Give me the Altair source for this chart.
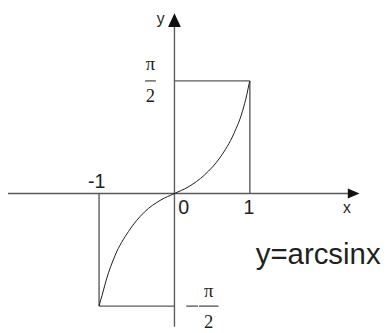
import altair as alt
import pandas as pd

# curve y = arcsin(x)
curve_x = [-1.0, -0.99, -0.96, -0.9, -0.79, -0.61, -0.4, -0.18, 0.0, 0.18, 0.4, 0.61, 0.79, 0.9, 0.96, 0.99, 1.0]
curve_y = [-1.5708, -1.53, -1.42, -1.19, -0.87, -0.53, -0.26, -0.09, 0.0, 0.09, 0.26, 0.51, 0.84, 1.14, 1.38, 1.53, 1.5708]

HALF_PI = 1.5708

# line segments: axes and guide box (x, y, x2, y2 in data units)
seg_x1 = [-2.208, 0.0, 0.0, 1.0, -1.0, -1.0, -0.390, 0.325, 0.156]
seg_y1 = [0.0, -1.858, HALF_PI, 0.0, -HALF_PI, 0.0, HALF_PI, -HALF_PI, -HALF_PI]
seg_x2 = [2.364, 0.0, 1.0, 1.0, 0.0, -1.0, -0.247, 0.584, 0.312]
seg_y2 = [0.0, 2.377, HALF_PI, HALF_PI, -HALF_PI, -HALF_PI, HALF_PI, -HALF_PI, -HALF_PI]

# sans labels
sans_text = ["-1", "0", "1"]
sans_x = [-1.032, 0.123, 0.987]
sans_y = [0.082, -0.285, -0.285]

small_text = ["y", "x"]
small_x = [-0.182, 2.286]
small_y = [2.363, -0.272]

# serif fraction parts
serif_text = ["π", "2", "π", "2"]
serif_x = [-0.318, -0.318, 0.455, 0.455]
serif_y = [1.721, 1.270, -1.448, -1.870]

title_text = ["y=arcsinx"]
title_x = [1.078]
title_y = [-0.983]

xs = alt.Scale(domain=[-2.2078, 2.7792], nice=False, zero=False)
ys = alt.Scale(domain=[-1.8986, 2.5406], nice=False, zero=False)

AX = "#5a5a5a"
TX = "#231f20"

curve = alt.Chart(pd.DataFrame({"x": curve_x, "y": curve_y})).mark_line(
    color="#1a1a1a", strokeWidth=1, interpolate="monotone"
).encode(
    x=alt.X("x:Q", scale=xs, axis=None),
    y=alt.Y("y:Q", scale=ys, axis=None),
    order="x:Q",
)

segs = alt.Chart(pd.DataFrame({"x": seg_x1, "y": seg_y1, "x2": seg_x2, "y2": seg_y2})).mark_rule(
    color=AX, strokeWidth=1.4
).encode(
    x=alt.X("x:Q", scale=xs, axis=None),
    y=alt.Y("y:Q", scale=ys, axis=None),
    x2="x2:Q",
    y2="y2:Q",
)

xarrow = alt.Chart(pd.DataFrame({"x": [2.377], "y": [0.0]})).mark_point(
    shape="M1,0L-1,-0.85L-1,0.85Z", size=144, filled=True, opacity=1, color="#111111"
).encode(x=alt.X("x:Q", scale=xs, axis=None), y=alt.Y("y:Q", scale=ys, axis=None))

yarrow = alt.Chart(pd.DataFrame({"x": [0.0], "y": [2.418]})).mark_point(
    shape="M0,-1L-0.93,1L0.93,1Z", size=196, filled=True, opacity=1, color="#111111"
).encode(x=alt.X("x:Q", scale=xs, axis=None), y=alt.Y("y:Q", scale=ys, axis=None))

def text_layer(t, x, y, font, size):
    return alt.Chart(pd.DataFrame({"t": t, "x": x, "y": y})).mark_text(
        font=font, fontSize=size, color=TX, align="center", baseline="alphabetic"
    ).encode(
        x=alt.X("x:Q", scale=xs, axis=None),
        y=alt.Y("y:Q", scale=ys, axis=None),
        text="t:N",
    )

sans = text_layer(sans_text, sans_x, sans_y, "Liberation Sans", 20)
small = text_layer(small_text, small_x, small_y, "Liberation Sans", 16)
serif = text_layer(serif_text, serif_x, serif_y, "Liberation Serif", 19)

title = alt.Chart(pd.DataFrame({"t": title_text, "x": title_x, "y": title_y})).mark_text(
    font="Liberation Sans", fontSize=30, color=TX, align="left", baseline="alphabetic"
).encode(
    x=alt.X("x:Q", scale=xs, axis=None),
    y=alt.Y("y:Q", scale=ys, axis=None),
    text="t:N",
)

chart = alt.layer(segs, curve, xarrow, yarrow, sans, small, serif, title).properties(
    width=384, height=325, padding=0, autosize=alt.AutoSizeParams(type="none")
).configure_view(stroke=None)

chart.save("out.html", embed_options={"renderer": "svg", "actions": False})
